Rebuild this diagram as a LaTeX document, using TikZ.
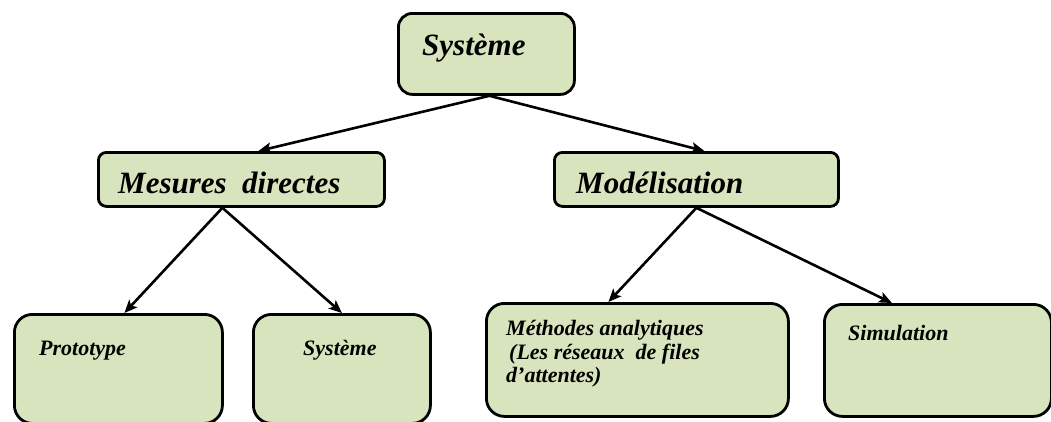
\documentclass[tikz,border=0pt]{standalone}
\usepackage{fontspec}
\setmainfont{LiberationSerif}[
  Extension=.ttf,
  UprightFont=*-Regular,
  BoldFont=*-Bold,
  ItalicFont=*-Italic,
  BoldItalicFont=*-BoldItalic]
\usetikzlibrary{arrows.meta}
\definecolor{boxfill}{HTML}{D7E4BD}
\begin{document}
\begin{tikzpicture}[x=1pt,y=-1pt,
  box/.style={draw=black, line width=2.8pt, fill=boxfill, rounded corners=#1,
    inner sep=0pt, anchor=north west},
  box/.default=10pt,
  bigtxt/.style={inner sep=0pt, anchor=base west,
    font=\fontsize{31}{33}\selectfont\bfseries\itshape},
  smalltxt/.style={inner sep=0pt, anchor=base west,
    font=\fontsize{22}{24}\selectfont\bfseries\itshape},
  link/.style={line width=2.6pt, -{Stealth[length=13pt,width=11pt,inset=3pt]}}]
\useasboundingbox (0,0) rectangle (1051,421);

% boxes
\node[box=14pt, minimum width=176pt, minimum height=81pt] (sys) at (397,12) {};
\node[box=8pt, minimum width=286pt, minimum height=54pt] (mes) at (97,151) {};
\node[box=8pt, minimum width=284pt, minimum height=54pt] (mod) at (553,151) {};
\node[box=18pt, minimum width=208pt, minimum height=109pt] (proto) at (13,313) {};
\node[box=18pt, minimum width=177pt, minimum height=109pt] (sys2) at (252,313) {};
\node[box=18pt, minimum width=302pt, minimum height=113pt] (meth) at (485,302) {};
\node[box=18pt, minimum width=227pt, minimum height=112pt] (simu) at (823,303) {};

% labels
\node[bigtxt] (tsys) at (422,55) {Système};
\node[bigtxt] (tmes) at (118,193) {Mesures\ \ directes};
\node[bigtxt] (tmod) at (576,193) {Modélisation};
\node[smalltxt] (tproto) at (39,355) {Prototype};
\node[smalltxt] (tsys2) at (303,355) {Système};
\node[smalltxt] (tmeth1) at (506,335) {Méthodes analytiques};
\node[smalltxt] (tmeth2) at (509,359) {(Les réseaux\ \ de files};
\node[smalltxt] (tmeth3) at (506,382) {d’attentes)};
\node[smalltxt] (tsimu) at (848,340) {Simulation};

% connectors
\draw[link] ([xshift=3pt]sys.south) -- ([xshift=17pt]mes.north);
\draw[link] ([xshift=3pt]sys.south) -- ([xshift=8pt]mod.north);
\draw[link] ([xshift=-19pt]mes.south) -- ([xshift=6pt]proto.north);
\draw[link] ([xshift=-19pt]mes.south) -- (sys2.north);
\draw[link] (mod.south) -- ([xshift=-29pt]meth.north);
\draw[link] (mod.south) -- ([xshift=-46pt]simu.north);
\end{tikzpicture}
\end{document}
